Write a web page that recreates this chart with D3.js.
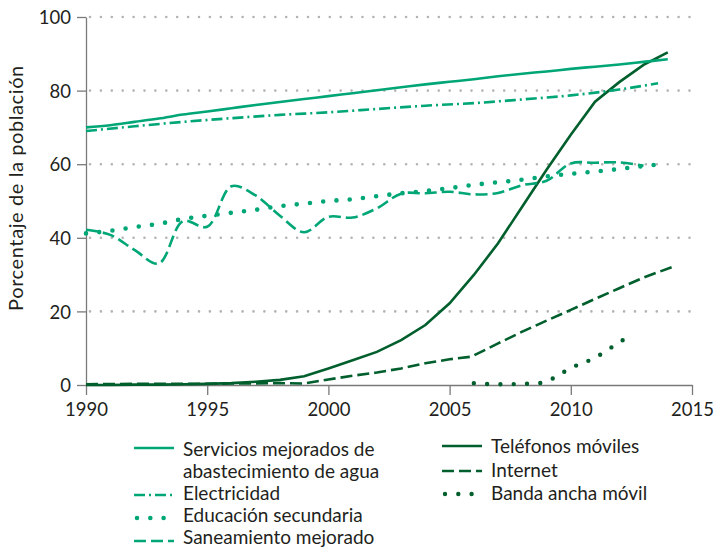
<!DOCTYPE html>
<html>
<head>
<meta charset="utf-8">
<script src="https://cdn.jsdelivr.net/npm/d3@7"></script>
<style>
  body { margin: 0; background: #fff; }
  svg text { font-family: Lato, "Noto Sans", sans-serif; fill: #231f20; }
</style>
</head>
<body>
<div id="chart"></div>
<script>
// ---- data ----
var xTicks = [1990, 1995, 2000, 2005, 2010, 2015];
var yTicks = [0, 20, 40, 60, 80, 100];

var aguaYears = [1990,1991,1992,1993,1994,1995,1996,1997,1998,1999,2000,2001,2002,2003,2004,2005,2006,2007,2008,2009,2010,2011,2012,2013,2014];
var aguaValues = [70,70.6,71.5,72.4,73.5,74.3,75.2,76.1,76.9,77.7,78.5,79.3,80.1,80.9,81.7,82.4,83.1,83.9,84.6,85.2,85.9,86.5,87.1,87.8,88.5];

var electricidadYears = [1990,1992,1994,1996,1998,2000,2002,2004,2006,2008,2010,2012,2013.6];
var electricidadValues = [69,70.3,71.5,72.5,73.4,74.1,75,75.9,76.6,77.6,78.7,80.3,82];

var educacionYears = [1990,1991,1992,1993,1994,1995,1996,1997,1998,1999,2000,2001,2002,2003,2004,2005,2006,2007,2008,2009,2010,2011,2012,2013,2013.6];
var educacionValues = [41.2,41.9,42.9,43.8,45.1,46,46.8,47.6,48.6,49.3,50,50.5,51.3,52.1,52.7,53.5,54.4,55.1,55.8,56.7,57.4,58,58.7,59.5,59.9];

var saneamientoYears = [1990,1991,1992,1993,1994,1995,1996,1997,1998,1999,2000,2001,2002,2003,2004,2005,2006,2007,2008,2009,2010,2011,2012,2013];
var saneamientoValues = [42.2,40.8,36.7,33,44.5,43,54,51.5,46,41.5,45.7,45.5,48,52,52.1,52.5,51.8,52.2,54.3,55.5,60.2,60.4,60.5,59.6];

var movilesYears = [1990,1991,1992,1993,1994,1995,1996,1997,1998,1999,2000,2001,2002,2003,2004,2005,2006,2007,2008,2009,2010,2011,2012,2013,2014];
var movilesValues = [0,0,0.1,0.1,0.2,0.3,0.5,0.9,1.4,2.4,4.5,6.7,9,12.2,16.3,22.2,29.9,38.5,48.5,58.5,68,77,82.3,87,90.4];

var internetYears = [1990,1992,1994,1996,1998,1999,2000,2001,2002,2003,2004,2005,2005.9,2007,2008,2009,2010,2011,2012,2013,2014.2];
var internetValues = [0.2,0.3,0.3,0.4,0.5,0.4,1.5,2.5,3.4,4.5,5.9,7,7.7,11.3,14.5,17.5,20.4,23.4,26.3,29.2,32.1];

var bandaYears = [2006,2007,2008,2008.7,2009,2009.5,2010,2011,2012,2012.6];
var bandaValues = [0.5,0.2,0.3,0.5,1.0,2.7,4.6,7.4,11.6,13.9];

var seriesNames = ["Servicios mejorados de\nabastecimiento de agua", "Electricidad", "Educación secundaria",
                   "Saneamiento mejorado", "Teléfonos móviles", "Internet", "Banda ancha móvil"];

var light = "#00a676", dark = "#005f2c";

// ---- layout ----
var W = 718, H = 550;
var margin = {top: 17, right: 26, bottom: 165, left: 86},
    width = W - margin.left - margin.right,
    height = H - margin.top - margin.bottom;

var svg = d3.select("#chart").append("svg")
    .attr("width", W).attr("height", H);
var g = svg.append("g")
    .attr("transform", "translate(" + margin.left + "," + margin.top + ")");

var x = d3.scaleLinear().domain([1990, 2015]).range([0, width]);
var y = d3.scaleLinear().domain([0, 100]).range([height, 0]);

// dotted gridlines
g.selectAll(".grid")
  .data(yTicks.filter(function(d) { return d > 0; }))
  .enter().append("line")
    .attr("x1", 4).attr("x2", width)
    .attr("y1", function(d) { return y(d); })
    .attr("y2", function(d) { return y(d); })
    .attr("stroke", "#b3b3b3")
    .attr("stroke-width", 2.6)
    .attr("stroke-linecap", "round")
    .attr("stroke-dasharray", "0,10.9");

// axes
var xAxis = g.append("g")
  .attr("transform", "translate(0," + height + ")")
  .call(d3.axisBottom(x).tickValues(xTicks).tickFormat(d3.format("d")).tickSize(10).tickSizeOuter(0));
var yAxis = g.append("g")
  .call(d3.axisLeft(y).tickValues(yTicks).tickSize(9).tickSizeOuter(0));

[xAxis, yAxis].forEach(function(a) {
  a.select(".domain").attr("stroke", "#7a7a7a").attr("stroke-width", 1.3);
  a.selectAll(".tick line").attr("stroke", "#7a7a7a").attr("stroke-width", 1.3);
  a.selectAll("text").attr("font-size", "18.5px").attr("fill", "#231f20")
    .style("font-family", "Lato, 'Noto Sans', sans-serif");
});
xAxis.selectAll("text").attr("dy", "1.1em").attr("y", 11);
yAxis.selectAll("text").attr("x", -15).attr("dy", "0.36em");

// y title
svg.append("text")
  .attr("transform", "translate(23," + (margin.top + 171) + ") rotate(-90)")
  .attr("text-anchor", "middle")
  .attr("font-size", "20px")
  .attr("letter-spacing", "0.6px")
  .text("Porcentaje de la población");

// line styles
var styles = [
  {color: light, dash: null, width: 2.6, curve: d3.curveMonotoneX, cap: "butt"},
  {color: light, dash: "11,4,2,4", width: 2.6, curve: d3.curveMonotoneX, cap: "butt"},
  {color: light, dash: "0,13.3", width: 4.6, curve: d3.curveMonotoneX, cap: "round"},
  {color: light, dash: "12,5", width: 2.6, curve: d3.curveCatmullRom.alpha(0.5), cap: "butt"},
  {color: dark, dash: null, width: 2.6, curve: d3.curveLinear, cap: "butt"},
  {color: dark, dash: "12,5", width: 2.6, curve: d3.curveLinear, cap: "butt"},
  {color: dark, dash: "0,13.3", width: 4.4, curve: d3.curveMonotoneX, cap: "round"}
];

var allSeries = [
  [aguaYears, aguaValues],
  [electricidadYears, electricidadValues],
  [educacionYears, educacionValues],
  [saneamientoYears, saneamientoValues],
  [movilesYears, movilesValues],
  [internetYears, internetValues],
  [bandaYears, bandaValues]
];

var drawOrder = [6, 5, 4, 3, 2, 1, 0];
drawOrder.forEach(function(i) {
  var pts = allSeries[i][0].map(function(yr, j) { return {year: yr, value: allSeries[i][1][j]}; });
  var st = styles[i];
  var line = d3.line()
    .x(function(d) { return x(d.year); })
    .y(function(d) { return y(d.value); })
    .curve(st.curve);
  g.append("path")
    .datum(pts)
    .attr("fill", "none")
    .attr("stroke", st.color)
    .attr("stroke-width", st.width)
    .attr("stroke-linecap", st.cap)
    .attr("stroke-dasharray", st.dash)
    .attr("d", line);
});

// legend
var legendRows = [
  {i: 0, lx: 134, ly: 448, ty: 456},
  {i: 1, lx: 134, ly: 495, ty: 500},
  {i: 2, lx: 134, ly: 518, ty: 522},
  {i: 3, lx: 134, ly: 541, ty: 544},
  {i: 4, lx: 442, ly: 446, ty: 453},
  {i: 5, lx: 442, ly: 471, ty: 477},
  {i: 6, lx: 442, ly: 494, ty: 500}
];
var legend = svg.append("g");
legendRows.forEach(function(r) {
  var st = styles[r.i];
  var len = 40;
  var x1 = r.lx, x2 = r.lx + len;
  if (st.cap === "round") { x1 = r.lx + 3; x2 = r.lx + len; }
  legend.append("line")
    .attr("x1", x1).attr("x2", x2)
    .attr("y1", r.ly).attr("y2", r.ly)
    .attr("stroke", st.color)
    .attr("stroke-width", st.width)
    .attr("stroke-linecap", st.cap)
    .attr("stroke-dasharray", st.dash);
  var t = legend.append("text")
    .attr("x", r.lx + len + 9)
    .attr("y", r.ty)
    .attr("font-size", "19px");
  seriesNames[r.i].split("\n").forEach(function(s, k) {
    t.append("tspan").attr("x", r.lx + len + 9).attr("dy", k ? 22 : 0).text(s);
  });
});
</script>
</body>
</html>
